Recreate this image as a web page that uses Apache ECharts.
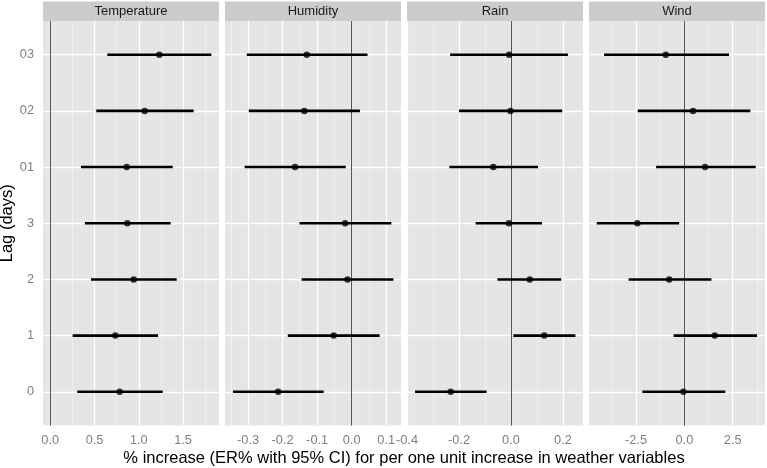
<!DOCTYPE html>
<html>
<head>
<meta charset="utf-8">
<script src="https://cdn.jsdelivr.net/npm/echarts@6/dist/echarts.min.js"></script>
<style>html,body{margin:0;padding:0;background:#fff}#c{width:767px;height:468px}</style>
</head>
<body>
<div id="c"></div>
<script>
// Lag categories, bottom to top
const categories = ['0', '1', '2', '3', '01', '02', '03'];
const panelNames = ['Temperature', 'Humidity', 'Rain', 'Wind'];

// Estimates and 95% CI (ER%), in category order
const tempEst = [0.784, 0.735, 0.942, 0.870, 0.863, 1.067, 1.232];
const tempLo  = [0.305, 0.253, 0.460, 0.392, 0.347, 0.520, 0.644];
const tempHi  = [1.270, 1.217, 1.428, 1.360, 1.383, 1.620, 1.820];

const humEst = [-0.213, -0.052, -0.012, -0.019, -0.164, -0.137, -0.130];
const humLo  = [-0.344, -0.185, -0.145, -0.151, -0.310, -0.298, -0.304];
const humHi  = [-0.081, 0.081, 0.121, 0.115, -0.017, 0.024, 0.046];

const rainEst = [-0.232, 0.128, 0.072, -0.008, -0.068, -0.002, -0.007];
const rainLo  = [-0.369, 0.009, -0.052, -0.136, -0.237, -0.200, -0.234];
const rainHi  = [-0.094, 0.248, 0.193, 0.119, 0.104, 0.197, 0.219];

const windEst = [-0.05, 1.57, -0.78, -2.43, 1.07, 0.45, -0.96];
const windLo  = [-2.17, -0.55, -2.88, -4.53, -1.46, -2.41, -4.15];
const windHi  = [2.12, 3.76, 1.40, -0.27, 3.69, 3.41, 2.31];

// Axis tick values
const tempTicks = [0.0, 0.5, 1.0, 1.5];
const humTicks = [-0.3, -0.2, -0.1, 0.0, 0.1];
const rainTicks = [-0.4, -0.2, 0.0, 0.2];
const windTicks = [-2.5, 0.0, 2.5];
const tempMinor = [0.25, 0.75, 1.25, 1.75];
const humMinor = [-0.35, -0.25, -0.15, -0.05, 0.05];
const rainMinor = [-0.3, -0.1, 0.1];
const windMinor = [-3.75, -1.25, 1.25, 3.75];

const xRanges = [[-0.082, 1.906], [-0.367, 0.143], [-0.4, 0.277], [-4.93, 4.17]];
const decimals = [1, 1, 1, 1];

const panels = [
  {est: tempEst, lo: tempLo, hi: tempHi, ticks: tempTicks, minor: tempMinor},
  {est: humEst, lo: humLo, hi: humHi, ticks: humTicks, minor: humMinor},
  {est: rainEst, lo: rainLo, hi: rainHi, ticks: rainTicks, minor: rainMinor},
  {est: windEst, lo: windLo, hi: windHi, ticks: windTicks, minor: windMinor}
];

const PL = 43, PW = 176, GAP = 6, PT = 21, PH = 404.5;
const grey = '#7F7F7F';
const FONT = 'Liberation Sans, Arial, sans-serif';
const yIdx = categories.map((c, i) => i);

const grids = [], xAxes = [], yAxes = [], series = [], graphics = [];
panels.forEach((p, i) => {
  const left = PL + i * (PW + GAP);
  grids.push({left: left, top: PT, width: PW, height: PH, show: true,
    backgroundColor: '#E5E5E5', borderWidth: 0, containLabel: false, outerBoundsMode: 'none'});
  xAxes.push({type: 'value', gridIndex: i, min: xRanges[i][0], max: xRanges[i][1],
    axisLine: {show: false}, splitLine: {show: false},
    axisTick: {show: true, customValues: p.ticks, length: 4, lineStyle: {color: grey, width: 1}},
    axisLabel: {show: true, customValues: p.ticks, color: grey, fontSize: 12.8, margin: 8,
      fontFamily: FONT, hideOverlap: false,
      formatter: v => v.toFixed(decimals[i])}
  });
  yAxes.push({type: 'value', gridIndex: i, min: -0.6, max: 6.6,
    axisLine: {show: false}, splitLine: {show: false},
    axisTick: {show: i === 0, customValues: yIdx, length: 4, lineStyle: {color: grey, width: 1}},
    axisLabel: {show: i === 0, customValues: yIdx, color: grey, fontSize: 12.8, margin: 9,
      fontFamily: FONT,
      formatter: v => categories[Math.round(v)]},
    name: i === 0 ? 'Lag (days)' : '', nameLocation: 'middle', nameRotate: 90, nameGap: 23,
    nameTextStyle: {color: '#000', fontSize: 16.5, fontFamily: FONT}
  });
  // minor grid
  series.push({type: 'line', xAxisIndex: i, yAxisIndex: i, data: [], silent: true, z: 1,
    markLine: {silent: true, symbol: 'none', animation: false, label: {show: false},
      lineStyle: {color: '#F2F2F2', width: 0.8, type: 'solid'},
      emphasis: {disabled: true},
      data: p.minor.map(v => ({xAxis: v}))}
  });
  // major grid
  series.push({type: 'line', xAxisIndex: i, yAxisIndex: i, data: [], silent: true, z: 2,
    markLine: {silent: true, symbol: 'none', animation: false, label: {show: false},
      lineStyle: {color: '#FFFFFF', width: 1.3, type: 'solid'},
      emphasis: {disabled: true},
      data: p.ticks.map(v => ({xAxis: v})).concat(yIdx.map(v => ({yAxis: v})))}
  });
  // reference line at zero
  series.push({type: 'line', xAxisIndex: i, yAxisIndex: i, data: [], silent: true, z: 3,
    markLine: {silent: true, symbol: 'none', animation: false, label: {show: false},
      lineStyle: {color: '#555555', width: 1, type: 'solid'},
      emphasis: {disabled: true},
      data: [{xAxis: 0}]}
  });
  // error bars
  series.push({type: 'custom', xAxisIndex: i, yAxisIndex: i, z: 5, silent: true,
    data: yIdx.map(k => [p.lo[k], p.hi[k], k]),
    encode: {x: [0, 1], y: 2},
    renderItem: (params, api) => {
      const a = api.coord([api.value(0), api.value(2)]);
      const b = api.coord([api.value(1), api.value(2)]);
      return {type: 'line', shape: {x1: a[0], y1: a[1], x2: b[0], y2: b[1]},
        style: {stroke: '#000', lineWidth: 2.6}};
    }
  });
  // point estimates
  series.push({type: 'scatter', xAxisIndex: i, yAxisIndex: i, z: 6, silent: true,
    symbol: 'circle', symbolSize: 6.5, itemStyle: {color: '#000'},
    data: yIdx.map(k => [p.est[k], k])
  });
  // strip
  graphics.push({type: 'rect', left: left, top: 1.5, shape: {width: PW, height: 19.5},
    style: {fill: '#CCCCCC'}, silent: true});
  graphics.push({type: 'text', x: left + PW / 2, y: 11.5,
    style: {text: panelNames[i], fill: '#1A1A1A', font: '13px "Liberation Sans", Arial, sans-serif',
      textAlign: 'center', textVerticalAlign: 'middle'}, silent: true});
});
graphics.push({type: 'text', x: 404, y: 458,
  style: {text: '% increase (ER% with 95% CI) for per one unit increase in weather variables',
    fill: '#000', font: '16.5px "Liberation Sans", Arial, sans-serif',
    textAlign: 'center', textVerticalAlign: 'middle'}, silent: true});

const chart = echarts.init(document.getElementById('c'), null, {renderer: 'canvas'});
chart.setOption({
  animation: false,
  backgroundColor: '#FFFFFF',
  grid: grids, xAxis: xAxes, yAxis: yAxes, series: series, graphic: graphics
});
</script>
</body>
</html>
